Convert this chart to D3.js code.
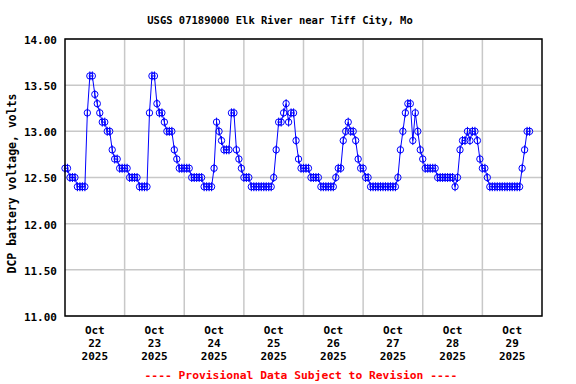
<!DOCTYPE html>
<html>
<head>
<meta charset="utf-8">
<script src="https://cdn.jsdelivr.net/npm/d3@7"></script>
<style>
  body { margin: 0; background: #fff; }
  text { font-family: "DejaVu Sans Mono", "Liberation Mono", monospace; font-weight: bold; }
</style>
</head>
<body>
<div id="chart"></div>
<script>
// hourly DCP battery voltage, one array per day (Oct 22 .. Oct 29, 2025)
const oct22 = [12.6,12.6,12.5,12.5,12.5,12.4,12.4,12.4,12.4,13.2,13.6,13.6,13.4,13.3,13.2,13.1,13.1,13.0,13.0,12.8,12.7,12.7,12.6,12.6];
const oct23 = [12.6,12.6,12.5,12.5,12.5,12.5,12.4,12.4,12.4,12.4,13.2,13.6,13.6,13.3,13.2,13.2,13.1,13.0,13.0,13.0,12.8,12.7,12.6,12.6];
const oct24 = [12.6,12.6,12.6,12.5,12.5,12.5,12.5,12.5,12.4,12.4,12.4,12.4,12.6,13.1,13.0,12.9,12.8,12.8,12.8,13.2,13.2,12.8,12.7,12.6];
const oct25 = [12.5,12.5,12.5,12.4,12.4,12.4,12.4,12.4,12.4,12.4,12.4,12.4,12.5,12.8,13.1,13.1,13.2,13.3,13.1,13.2,13.2,12.9,12.7,12.6];
const oct26 = [12.6,12.6,12.6,12.5,12.5,12.5,12.5,12.4,12.4,12.4,12.4,12.4,12.4,12.5,12.6,12.6,12.9,13.0,13.1,13.0,13.0,12.9,12.7,12.6];
const oct27 = [12.6,12.5,12.5,12.4,12.4,12.4,12.4,12.4,12.4,12.4,12.4,12.4,12.4,12.4,12.5,12.8,13.0,13.2,13.3,13.3,12.9,13.2,13.0,12.8];
const oct28 = [12.7,12.6,12.6,12.6,12.6,12.6,12.5,12.5,12.5,12.5,12.5,12.5,12.5,12.4,12.5,12.8,12.9,12.9,13.0,12.9,13.0,13.0,12.9,12.7];
const oct29 = [12.6,12.6,12.5,12.4,12.4,12.4,12.4,12.4,12.4,12.4,12.4,12.4,12.4,12.4,12.4,12.4,12.6,12.8,13.0,13.0];

const days = [oct22, oct23, oct24, oct25, oct26, oct27, oct28, oct29];
const dayLabels = ["22", "23", "24", "25", "26", "27", "28", "29"];
const yTicks = [11.0, 11.5, 12.0, 12.5, 13.0, 13.5, 14.0];

const title = "USGS 07189000 Elk River near Tiff City, Mo";
const yTitle = "DCP battery voltage, volts";
const footer = "---- Provisional Data Subject to Revision ----";

const data = [];
days.forEach((vals, d) => {
  vals.forEach((v, h) => data.push({ t: new Date(2025, 9, 22 + d, h), v: v }));
});

const width = 576, height = 384;
const plotLeft = 65, plotRight = 542, plotTop = 39, plotBottom = 316;

const svg = d3.select("#chart").append("svg")
  .attr("width", width)
  .attr("height", height);

svg.append("rect").attr("width", width).attr("height", height).attr("fill", "#fff");

const x = d3.scaleTime()
  .domain([new Date(2025, 9, 22), new Date(2025, 9, 30)])
  .range([plotLeft, plotRight]);

const y = d3.scaleLinear()
  .domain([11, 14])
  .range([plotBottom, plotTop]);

// grid
const midnights = d3.timeDay.range(new Date(2025, 9, 23), new Date(2025, 9, 30));
svg.append("g").selectAll("line")
  .data(midnights)
  .enter().append("line")
    .attr("x1", d => x(d)).attr("x2", d => x(d))
    .attr("y1", plotTop).attr("y2", plotBottom)
    .attr("stroke", "#c8c8c8").attr("stroke-width", 1.5);

svg.append("g").selectAll("line")
  .data(yTicks)
  .enter().append("line")
    .attr("x1", plotLeft).attr("x2", plotRight)
    .attr("y1", d => y(d)).attr("y2", d => y(d))
    .attr("stroke", "#c8c8c8").attr("stroke-width", 1.5);

// y axis labels
svg.append("g").selectAll("text")
  .data(yTicks)
  .enter().append("text")
    .attr("x", 57)
    .attr("y", d => y(d) + 1)
    .attr("dy", "0.35em")
    .attr("text-anchor", "end")
    .attr("font-size", 11)
    .text(d => d3.format(".2f")(d));

// x axis labels at noon
const noons = days.map((v, d) => new Date(2025, 9, 22 + d, 12));
const xl = svg.append("g").selectAll("text")
  .data(noons)
  .enter().append("text")
    .attr("text-anchor", "middle")
    .attr("font-size", 11)
    .attr("x", d => x(d));
xl.append("tspan").attr("x", d => x(d)).attr("y", 334).text("Oct");
xl.append("tspan").attr("x", d => x(d)).attr("y", 347).text((d, i) => dayLabels[i]);
xl.append("tspan").attr("x", d => x(d)).attr("y", 360).text(d => d.getFullYear());

// data line + markers
const line = d3.line().x(d => x(d.t)).y(d => y(d.v));
svg.append("path")
  .datum(data)
  .attr("d", line)
  .attr("fill", "none")
  .attr("stroke", "#0000ff")
  .attr("stroke-width", 1);

const marks = svg.append("g").selectAll("g")
  .data(data)
  .enter().append("g")
    .attr("transform", d => "translate(" + x(d.t) + "," + y(d.v) + ")");
marks.append("circle")
  .attr("r", 3.2)
  .attr("fill", "none")
  .attr("stroke", "#0000ff")
  .attr("stroke-width", 1);
marks.append("line")
  .attr("y1", -4.5).attr("y2", 4.5)
  .attr("stroke", "#0000ff")
  .attr("stroke-width", 1);

// frame
svg.append("rect")
  .attr("x", plotLeft).attr("y", plotTop)
  .attr("width", plotRight - plotLeft).attr("height", plotBottom - plotTop)
  .attr("fill", "none")
  .attr("stroke", "#000")
  .attr("stroke-width", 1.5);

// titles
svg.append("text")
  .attr("x", 280).attr("y", 24)
  .attr("text-anchor", "middle")
  .attr("font-size", 10.5)
  .text(title);

svg.append("text")
  .attr("transform", "translate(16," + ((plotTop + plotBottom) / 2 + 6) + ") rotate(-90)")
  .attr("text-anchor", "middle")
  .attr("font-size", 11.5)
  .text(yTitle);

svg.append("text")
  .attr("x", 301).attr("y", 379)
  .attr("text-anchor", "middle")
  .attr("font-size", 11.3)
  .attr("fill", "#ff0000")
  .text(footer);
</script>
</body>
</html>
